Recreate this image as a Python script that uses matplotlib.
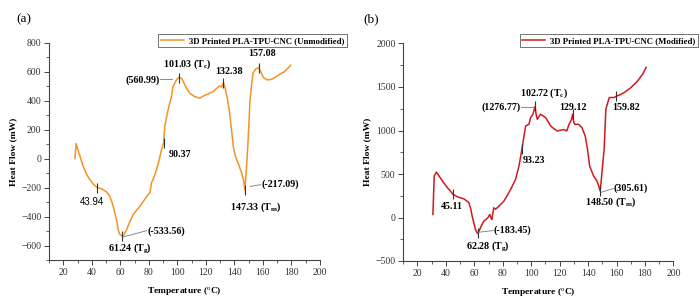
import numpy as np
import matplotlib
matplotlib.use('Agg')
import matplotlib.pyplot as plt
from matplotlib.ticker import MultipleLocator

plt.rcParams['font.family'] = ['Liberation Serif', 'DejaVu Serif']
plt.rcParams['mathtext.fontset'] = 'custom'
plt.rcParams['mathtext.rm'] = 'Liberation Serif'
plt.rcParams['mathtext.bf'] = 'Liberation Serif:bold'

# (a) unmodified - temperature (C) / heat flow (mW)
temp_a = [28.2, 29.0, 30.0, 31.5, 34.0, 36.5, 38.7, 41.0, 43.94, 46.0, 48.0, 50.5, 52.7, 54.5,
          56.2, 57.5, 58.5, 59.8, 61.24, 62.5, 64.4, 66.5, 69.0, 71.5, 73.7, 76.5, 79.5, 80.8,
          81.9, 83.5, 85.4, 87.2, 88.9, 90.37, 91.2, 93.5, 95.9, 97.0, 99.4, 101.03, 103.0,
          106.4, 109.0, 112.0, 115.7, 118.5, 121.0, 125.0, 127.5, 129.6, 131.0, 132.38, 133.5,
          135.0, 136.5, 138.0, 139.5, 141.0, 143.0, 145.0, 146.5, 147.33, 148.4, 149.5, 151.0,
          153.0, 155.0, 157.08, 158.5, 160.5, 163.0, 166.0, 169.0, 172.0, 175.0, 177.5, 179.5]
flow_a = [0, 105, 70, 25, -53, -110, -145, -175, -200, -205, -214, -230, -260, -310,
          -375, -430, -490, -525, -533.56, -525, -490, -440, -386, -355, -329, -290, -248, -235,
          -166, -130, -76, -10, 62, 110, 223, 338, 430, 499, 545, 560.99, 555,
          488, 450, 430, 418, 435, 445, 464, 485, 503, 495, 525, 490,
          420, 330, 200, 70, 10, -40, -95, -150, -217.09, -80, 100, 407,
          590, 620, 630, 600, 560, 545, 548, 565, 585, 600, 625, 646]

# (b) modified
temp_b = [30.9, 31.8, 33.3, 35.5, 38.4, 41.0, 43.2, 45.11, 48.5, 52.6, 56.1, 57.5, 58.5, 60.8,
          62.28, 63.5, 64.8, 66.7, 69.5, 70.9, 71.6, 72.3, 73.7, 74.9, 77.3, 80.8, 83.0, 85.5,
          89.0, 91.4, 93.23, 93.8, 96.1, 98.4, 99.6, 101.3, 102.72, 103.5, 104.3, 106.6, 110.2,
          113.7, 116.0, 118.4, 121.0, 123.1, 125.0, 126.6, 128.2, 129.12, 130.0, 130.6, 133.3,
          135.7, 138.0, 139.6, 141.1, 143.9, 146.3, 147.5, 148.5, 149.0, 150.4, 151.3, 152.5,
          154.9, 158.4, 159.82, 162.5, 165.5, 170.2, 174.9, 178.4, 180.8]
flow_b = [35, 476, 522, 470, 400, 345, 303, 265, 235, 215, 173, 100, 15, -138,
          -183.45, -150, -100, -42, -4, 35, 0, -23, 112, 95, 130, 188, 250, 322,
          438, 591, 760, 821, 1052, 1071, 1148, 1190, 1276.77, 1180, 1129, 1187, 1148,
          1052, 1020, 994, 1005, 1010, 994, 1071, 1120, 1187, 1090, 1071, 1071,
          1032, 936, 783, 591, 476, 418, 360, 305.61, 380, 633, 783, 1244,
          1379, 1379, 1394, 1410, 1437, 1494, 1571, 1648, 1725]

# marked points, labels (x, y, text, ha, font)
marks_a = [(43.94, -200), (61.24, -533.56), (90.37, 110), (101.03, 560.99),
           (132.38, 525), (147.33, -217.09), (157.08, 630)]
labels_a = [(40.1, -297, '43.94', 'center', 'sans'),
            (66.7, -621, r'61.24 (T$_\mathbf{g}$)', 'center', 'serif'),
            (79.3, -497, '(-533.56)', 'left', 'serif'),
            (101.7, 28, '90.37', 'center', 'serif'),
            (87.7, 545, '(560.99)', 'right', 'serif'),
            (106.6, 655, r'101.03 (T$_\mathbf{c}$)', 'center', 'serif'),
            (136.4, 600, '132.38', 'center', 'serif'),
            (159.5, 724, '157.08', 'center', 'serif'),
            (159.2, -179, '(-217.09)', 'left', 'serif'),
            (154.6, -338, r'147.33 (T$_\mathbf{m}$)', 'center', 'serif')]
leaders_a = [((62.0, -540), (78.4, -497)), ((87.9, 552), (96.1, 552)),
             ((151.2, -191), (158.5, -179))]

marks_b = [(45.11, 265), (62.28, -183.45), (93.23, 790), (102.72, 1276.77),
           (129.12, 1187), (148.5, 305.61), (159.82, 1394)]
labels_b = [(44.2, 127, '45.11', 'center', 'serif'),
            (69.3, -334, r'62.28 (T$_\mathbf{g}$)', 'center', 'serif'),
            (73.5, -150, '(-183.45)', 'left', 'serif'),
            (102.1, 657, '93.23', 'center', 'serif'),
            (92.6, 1267, '(1276.77)', 'right', 'serif'),
            (108.8, 1428, r'102.72 (T$_\mathbf{c}$)', 'center', 'serif'),
            (129.6, 1267, '129.12', 'center', 'serif'),
            (167.0, 1267, '159.82', 'center', 'serif'),
            (158.2, 334, '(305.61)', 'left', 'serif'),
            (155.7, 173, r'148.50 (T$_\mathbf{m}$)', 'center', 'serif')]
leaders_b = [((62.8, -170), (73.3, -150)), ((92.8, 1267), (102.0, 1267)),
             ((149.3, 290), (157.9, 334))]

fig = plt.figure(figsize=(7, 3), dpi=100)
ax1 = fig.add_axes([0.07, 0.133, 0.387, 0.724])
ax2 = fig.add_axes([0.576, 0.13, 0.386, 0.725])


def style(ax, ylim, ymaj, ymin):
    ax.set_xlim(10, 200)
    ax.set_ylim(*ylim)
    ax.spines['top'].set_visible(False)
    ax.spines['right'].set_visible(False)
    for s in ['left', 'bottom']:
        ax.spines[s].set_linewidth(0.8)
        ax.spines[s].set_color('#444444')
    ax.xaxis.set_major_locator(MultipleLocator(20))
    ax.xaxis.set_minor_locator(MultipleLocator(10))
    ax.yaxis.set_major_locator(MultipleLocator(ymaj))
    ax.yaxis.set_minor_locator(MultipleLocator(ymin))
    ax.tick_params(which='major', direction='out', length=3.5, width=0.7,
                   labelsize=7, colors='#444444', labelcolor='#333333', pad=2)
    ax.tick_params(which='minor', direction='out', length=2, width=0.6, colors='#444444')
    ax.set_xlabel('Temperature ($^\\mathrm{o}$C)', fontsize=6.8, fontweight='bold', labelpad=6)
    ax.set_ylabel('Heat Flow (mW)', fontsize=6.8, fontweight='bold', labelpad=3)


def draw(ax, t, f, color, name, marks, labels, leaders):
    ax.plot(t, f, color=color, lw=1.1, label=name)
    for x, y in marks:
        ax.plot(x, y, marker='|', color='#333333', markersize=7, mew=0.8)
    for (x0, y0), (x1, y1) in leaders:
        ax.plot([x0, x1], [y0, y1], color='#777777', lw=0.6)
    for x, y, s, ha, fam in labels:
        if fam == 'sans':
            ax.text(x, y, s, ha=ha, va='center', fontsize=7, family='Liberation Sans')
        else:
            ax.text(x, y, s, ha=ha, va='center', fontsize=7.2, fontweight='bold')


draw(ax1, temp_a, flow_a, '#F39325', '3D Printed PLA-TPU-CNC (Unmodified)',
     marks_a, labels_a, leaders_a)
draw(ax2, temp_b, flow_b, '#D01A1E', '3D Printed PLA-TPU-CNC (Modified)',
     marks_b, labels_b, leaders_b)
style(ax1, (-700, 800), 200, 100)
style(ax2, (-500, 2000), 500, 250)

for ax, anchor in [(ax1, (347 / 700, 1 - 34 / 300)), (ax2, (698 / 700, 1 - 34 / 300))]:
    leg = ax.legend(loc='upper right', bbox_to_anchor=anchor, bbox_transform=fig.transFigure,
                    prop={'weight': 'bold', 'size': 6.3}, frameon=True,
                    fancybox=False, borderpad=0.3, handlelength=2.6, handletextpad=0.6,
                    borderaxespad=0)
    leg.get_frame().set_edgecolor('#333333')
    leg.get_frame().set_linewidth(0.6)

fig.text(16 / 700, 1 - 19 / 300, '(a)', fontsize=9.5, va='center')
fig.text(363 / 700, 1 - 19 / 300, '(b)', fontsize=9.5, va='center')

fig.savefig('out.png', dpi=100)
